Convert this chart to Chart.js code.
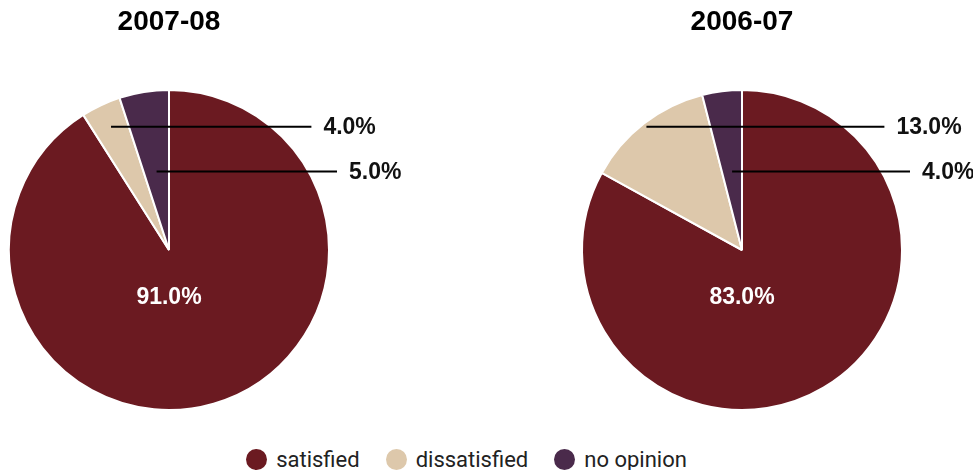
<!DOCTYPE html>
<html lang="en">
<head>
    <meta charset="UTF-8">
    <title>Satisfaction survey</title>
    <script src="https://cdn.jsdelivr.net/npm/chart.js"></script>
    <style>
        body { margin: 0; background: #fff; width: 973px; height: 470px; position: relative; overflow: hidden; }
        .pie-box { position: absolute; top: 0; height: 420px; }
        #left-box { left: 0; width: 420px; }
        #right-box { left: 573px; width: 400px; }
        .legend {
            position: absolute; left: 0; top: 447px; width: 933px; height: 24px;
            display: flex; justify-content: center; align-items: center;
            font-family: Roboto, sans-serif; font-size: 22px; color: #222;
        }
        .legend-item { display: flex; align-items: center; margin: 0 13px; }
        .legend-dot { width: 21px; height: 21px; border-radius: 50%; margin-right: 9px; }
    </style>
</head>
<body>
    <div class="pie-box" id="left-box"><canvas id="pie0708"></canvas></div>
    <div class="pie-box" id="right-box"><canvas id="pie0607"></canvas></div>
    <div class="legend" id="legend"></div>

    <script>
        const categories = ['satisfied', 'dissatisfied', 'no opinion'];
        const values0708 = [91.0, 4.0, 5.0];
        const values0607 = [83.0, 13.0, 4.0];
        const colors = ['#6b1a21', '#ddc8ab', '#4a2a4b'];

        // leader lines for the two small slices: height above centre and line end, as parts of the radius
        const leaderLevels = [null, 0.77, 0.49];
        const leaderEnds = [null, 0.89, 1.05];

        const labelFont = 'bold 23px "Liberation Sans", Arial, sans-serif';

        const pieLabels = {
            id: 'pieLabels',
            afterDatasetsDraw(chart) {
                const ctx = chart.ctx;
                const meta = chart.getDatasetMeta(0);
                const values = chart.data.datasets[0].data;
                ctx.save();
                meta.data.forEach((arc, i) => {
                    const { x, y, startAngle, endAngle, outerRadius: r } = arc.getProps(['x', 'y', 'startAngle', 'endAngle', 'outerRadius'], true);
                    const text = values[i].toFixed(1) + '%';
                    if (i === 0) {
                        ctx.fillStyle = '#fff';
                        ctx.font = 'bold 23px "Liberation Sans", Arial, sans-serif';
                        ctx.textAlign = 'center';
                        ctx.textBaseline = 'middle';
                        ctx.fillText(text, x, y + r * 0.3);
                        return;
                    }
                    const mid = (startAngle + endAngle) / 2;
                    const ly = y - leaderLevels[i] * r;
                    const t = (leaderLevels[i] * r) / -Math.sin(mid);
                    const x0 = x + t * Math.cos(mid);
                    const x1 = x + leaderEnds[i] * r;
                    ctx.strokeStyle = '#000';
                    ctx.lineWidth = 2;
                    ctx.beginPath();
                    ctx.moveTo(x0, ly);
                    ctx.lineTo(x1, ly);
                    ctx.stroke();
                    ctx.fillStyle = '#111';
                    ctx.font = labelFont;
                    ctx.textAlign = 'left';
                    ctx.textBaseline = 'middle';
                    ctx.fillText(text, x1 + 12, ly + 1);
                });
                ctx.restore();
            }
        };

        function makePie(canvasId, title, values, padRight) {
            return new Chart(document.getElementById(canvasId), {
                type: 'pie',
                data: {
                    labels: categories,
                    datasets: [{
                        data: values,
                        backgroundColor: colors,
                        borderColor: '#fff',
                        borderWidth: 2
                    }]
                },
                options: {
                    responsive: true,
                    maintainAspectRatio: false,
                    animation: false,
                    layout: { padding: { left: 8, right: padRight, top: 0, bottom: 9 } },
                    plugins: {
                        legend: { display: false },
                        tooltip: { enabled: false },
                        title: {
                            display: true,
                            text: title,
                            color: '#000',
                            font: { family: '"Liberation Sans", Arial, sans-serif', size: 28, weight: 'bold', lineHeight: 1.2 },
                            padding: { top: 5, bottom: 50.4 }
                        }
                    }
                },
                plugins: [pieLabels]
            });
        }

        makePie('pie0708', '2007-08', values0708, 90);
        makePie('pie0607', '2006-07', values0607, 70);

        const legend = document.getElementById('legend');
        categories.forEach((name, i) => {
            const item = document.createElement('div');
            item.className = 'legend-item';
            item.innerHTML = '<span class="legend-dot" style="background:' + colors[i] + '"></span><span>' + name + '</span>';
            legend.appendChild(item);
        });
    </script>
</body>
</html>
